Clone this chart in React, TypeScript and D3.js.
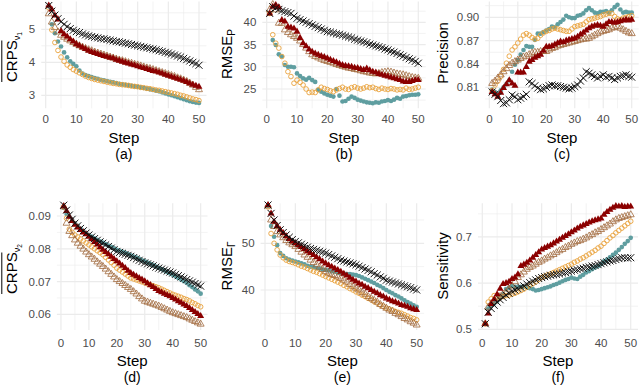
import React from 'react'
import * as d3 from 'd3'

// steps 1..50 shared by every panel
const steps = d3.range(1, 51)

// (a) CRPS nu1
const crps1Teal = [5.70,5.15,4.88,4.63,4.48,4.30,4.15,4.03,3.95,3.88,3.75,3.66,3.61,3.58,3.55,3.52,3.50,3.47,3.45,3.43,3.41,3.39,3.37,3.35,3.33,3.32,3.30,3.29,3.27,3.26,3.24,3.22,3.20,3.18,3.16,3.14,3.12,3.09,3.06,3.03,3.00,2.97,2.94,2.91,2.88,2.85,2.82,2.80,2.78,2.77]
const crps1Orange = [5.65,4.98,4.60,4.36,4.16,4.03,3.92,3.85,3.78,3.73,3.68,3.63,3.58,3.54,3.51,3.48,3.46,3.44,3.42,3.40,3.38,3.36,3.35,3.33,3.32,3.31,3.30,3.28,3.27,3.26,3.24,3.23,3.21,3.20,3.18,3.16,3.15,3.13,3.11,3.09,3.07,3.05,3.03,3.00,2.98,2.95,2.92,2.89,2.87,2.84]
const crps1Brown = [5.47,5.22,5.05,4.92,4.82,4.76,4.70,4.65,4.60,4.55,4.50,4.46,4.42,4.38,4.35,4.31,4.28,4.25,4.22,4.19,4.16,4.13,4.10,4.07,4.05,4.02,3.99,3.97,3.94,3.92,3.89,3.86,3.83,3.81,3.78,3.75,3.72,3.69,3.66,3.63,3.60,3.57,3.53,3.50,3.46,3.42,3.37,3.31,3.24,3.17]
const crps1Red = [5.72,5.60,5.42,5.30,4.95,4.85,4.78,4.70,4.63,4.55,4.50,4.45,4.40,4.35,4.31,4.28,4.25,4.22,4.19,4.17,4.14,4.12,4.08,4.05,4.02,3.99,3.96,3.93,3.91,3.88,3.85,3.83,3.80,3.77,3.74,3.72,3.69,3.66,3.62,3.59,3.56,3.53,3.50,3.47,3.44,3.40,3.36,3.32,3.29,3.26]
const crps1Black = [5.72,5.55,5.43,5.32,5.23,5.15,5.08,5.02,4.97,4.93,4.90,4.86,4.83,4.80,4.78,4.76,4.74,4.72,4.71,4.69,4.67,4.65,4.63,4.62,4.60,4.58,4.56,4.54,4.52,4.50,4.48,4.46,4.44,4.42,4.40,4.38,4.35,4.33,4.30,4.28,4.25,4.22,4.19,4.16,4.12,4.08,4.04,4.00,3.96,3.91]

// (b) RMSE p
const rmsePTeal = [42.0,36.0,34.9,32.8,32.3,30.4,30.0,30.0,29.9,28.5,27.9,27.4,27.1,27.5,27.0,26.6,24.8,24.4,24.0,23.7,23.5,23.3,25.0,23.5,22.2,22.3,22.8,23.3,23.0,22.6,22.4,22.2,22.0,21.9,21.8,22.0,21.9,22.2,22.3,22.5,22.3,22.6,23.0,22.8,23.3,23.4,23.6,23.7,23.7,23.8]
const rmsePOrange = [42.0,37.2,35.3,34.2,32.3,30.8,28.9,27.8,26.3,27.0,26.5,25.9,25.0,24.2,24.3,24.2,24.8,25.4,25.1,24.9,24.6,24.4,24.8,25.1,25.4,25.0,24.9,25.3,25.5,25.2,25.0,25.2,25.5,25.3,25.4,25.1,24.9,25.2,25.0,24.9,25.1,25.0,24.8,24.9,24.8,25.2,24.9,25.0,25.2,25.4]
const rmsePBrown = [42.8,44.0,42.8,39.8,39.8,38.3,37.7,37.2,36.8,36.4,35.8,35.0,34.2,33.4,32.7,32.3,32.0,31.7,31.4,31.2,31.0,30.8,30.5,30.3,30.1,29.9,29.7,29.6,29.4,29.3,29.1,28.9,28.8,28.6,28.5,28.4,28.5,28.7,28.8,28.9,28.8,28.6,28.4,28.3,28.2,28.0,27.8,27.6,27.5,27.4]
const rmsePRed = [42.0,43.5,43.9,43.4,40.5,40.2,39.0,38.8,38.6,37.9,36.5,35.3,34.6,33.9,33.4,33.0,32.7,32.4,32.2,31.9,31.6,31.3,31.0,30.7,30.4,30.2,30.1,30.0,29.8,29.7,29.5,29.3,29.6,29.2,28.9,28.7,28.4,28.2,28.0,27.8,27.6,27.4,27.2,27.0,26.7,26.6,26.6,26.8,27.0,27.0]
const rmsePBlack = [42.0,43.5,43.2,42.9,42.6,42.4,42.2,42.0,41.4,40.9,40.6,40.3,40.0,39.7,39.4,39.1,38.8,38.5,38.2,37.9,37.8,37.6,37.4,37.3,37.1,36.9,36.7,36.5,36.2,36.0,35.8,35.6,35.4,35.1,34.9,34.7,34.5,34.3,34.0,33.8,33.5,33.3,33.0,32.7,32.4,32.1,31.8,31.5,31.2,30.8]

// (c) Precision
const precTeal = [0.807,0.804,0.802,0.806,0.810,0.814,0.819,0.830,0.839,0.845,0.852,0.858,0.863,0.862,0.862,0.871,0.879,0.879,0.881,0.883,0.885,0.888,0.887,0.891,0.894,0.897,0.902,0.900,0.899,0.899,0.902,0.903,0.905,0.909,0.912,0.909,0.906,0.905,0.907,0.907,0.908,0.906,0.909,0.913,0.916,0.910,0.906,0.907,0.906,0.906]
const precOrange = [0.806,0.813,0.818,0.824,0.833,0.841,0.850,0.858,0.862,0.867,0.872,0.877,0.879,0.877,0.874,0.872,0.873,0.877,0.880,0.882,0.883,0.885,0.886,0.885,0.884,0.883,0.882,0.882,0.885,0.888,0.889,0.890,0.891,0.894,0.897,0.898,0.899,0.900,0.901,0.903,0.904,0.905,0.905,0.901,0.898,0.897,0.899,0.900,0.901,0.902]
const precBrown = [0.815,0.818,0.822,0.826,0.830,0.834,0.838,0.841,0.843,0.845,0.847,0.849,0.850,0.852,0.854,0.855,0.855,0.856,0.856,0.856,0.858,0.860,0.861,0.863,0.864,0.865,0.866,0.867,0.868,0.869,0.870,0.871,0.872,0.872,0.873,0.875,0.877,0.879,0.881,0.882,0.883,0.884,0.886,0.887,0.888,0.886,0.884,0.882,0.880,0.879]
const precRed = [0.804,0.801,0.798,0.803,0.809,0.814,0.819,0.815,0.812,0.829,0.829,0.829,0.836,0.843,0.845,0.848,0.850,0.852,0.857,0.862,0.862,0.863,0.865,0.867,0.869,0.868,0.870,0.871,0.872,0.873,0.875,0.878,0.880,0.883,0.886,0.888,0.889,0.890,0.889,0.888,0.891,0.894,0.894,0.893,0.894,0.895,0.896,0.897,0.896,0.897]
const precBlack = [0.804,0.801,0.798,0.793,0.789,0.790,0.794,0.800,0.798,0.794,0.796,0.798,0.801,0.817,0.815,0.812,0.809,0.807,0.808,0.810,0.812,0.813,0.812,0.812,0.811,0.810,0.809,0.808,0.809,0.811,0.813,0.818,0.822,0.830,0.828,0.826,0.824,0.822,0.824,0.826,0.823,0.824,0.822,0.820,0.822,0.824,0.825,0.826,0.824,0.823]

// (d) CRPS nu2
const crps2Teal = [0.0925,0.0906,0.0898,0.0888,0.0878,0.0870,0.0862,0.0855,0.0848,0.0842,0.0837,0.0832,0.0827,0.0823,0.0819,0.0814,0.0810,0.0806,0.0801,0.0797,0.0794,0.0791,0.0788,0.0784,0.0780,0.0776,0.0773,0.0769,0.0765,0.0762,0.0758,0.0754,0.0750,0.0746,0.0742,0.0738,0.0734,0.0729,0.0725,0.0721,0.0716,0.0711,0.0706,0.0701,0.0696,0.0689,0.0683,0.0676,0.0670,0.0663]
const crps2Orange = [0.0928,0.0893,0.0860,0.0850,0.0842,0.0836,0.0830,0.0824,0.0818,0.0812,0.0806,0.0800,0.0794,0.0788,0.0782,0.0774,0.0766,0.0758,0.0750,0.0741,0.0735,0.0729,0.0723,0.0717,0.0711,0.0708,0.0705,0.0702,0.0699,0.0696,0.0693,0.0690,0.0687,0.0684,0.0681,0.0677,0.0673,0.0669,0.0665,0.0661,0.0658,0.0655,0.0652,0.0648,0.0645,0.0641,0.0636,0.0632,0.0627,0.0623]
const crps2Brown = [0.0928,0.0878,0.0853,0.0840,0.0827,0.0817,0.0808,0.0799,0.0790,0.0782,0.0775,0.0768,0.0760,0.0753,0.0746,0.0738,0.0730,0.0722,0.0714,0.0706,0.0700,0.0694,0.0688,0.0682,0.0676,0.0669,0.0662,0.0654,0.0647,0.0640,0.0637,0.0634,0.0631,0.0628,0.0625,0.0621,0.0617,0.0613,0.0609,0.0605,0.0602,0.0599,0.0596,0.0593,0.0590,0.0586,0.0582,0.0578,0.0574,0.0570]
const crps2Red = [0.0930,0.0915,0.0898,0.0885,0.0873,0.0865,0.0857,0.0850,0.0844,0.0837,0.0829,0.0821,0.0813,0.0805,0.0797,0.0790,0.0783,0.0776,0.0769,0.0762,0.0755,0.0748,0.0741,0.0733,0.0726,0.0721,0.0716,0.0711,0.0706,0.0701,0.0695,0.0689,0.0683,0.0677,0.0671,0.0667,0.0663,0.0659,0.0655,0.0650,0.0645,0.0640,0.0635,0.0630,0.0625,0.0619,0.0613,0.0607,0.0601,0.0595]
const crps2Black = [0.0933,0.0918,0.0903,0.0890,0.0878,0.0870,0.0862,0.0855,0.0848,0.0842,0.0836,0.0831,0.0826,0.0821,0.0817,0.0812,0.0807,0.0802,0.0797,0.0792,0.0789,0.0786,0.0783,0.0780,0.0777,0.0773,0.0769,0.0765,0.0761,0.0757,0.0754,0.0751,0.0748,0.0744,0.0741,0.0738,0.0735,0.0732,0.0729,0.0726,0.0722,0.0718,0.0714,0.0710,0.0706,0.0702,0.0698,0.0694,0.0690,0.0686]

// (e) RMSE Gamma
const rmseGTeal = [58.0,53.7,51.4,49.6,47.9,47.3,46.8,46.5,46.3,46.1,45.9,45.7,45.5,45.2,45.0,44.9,44.7,44.6,44.4,44.3,44.2,44.0,43.9,43.7,43.6,43.5,43.4,43.4,43.3,43.2,43.0,42.7,42.4,42.1,41.8,41.5,41.1,40.8,40.4,40.0,39.6,39.3,38.9,38.6,38.2,37.8,37.4,37.1,36.7,36.4]
const rmseGOrange = [57.8,52.1,50.0,48.6,47.5,46.9,46.4,46.1,45.9,45.7,45.4,45.1,44.9,44.6,44.3,44.0,43.8,43.5,43.2,42.9,42.6,42.3,42.0,41.7,41.4,41.0,40.7,40.3,40.0,39.6,39.3,38.9,38.6,38.2,37.9,37.5,37.2,36.8,36.5,36.1,35.9,35.7,35.4,35.2,35.0,34.7,34.4,34.1,33.9,33.6]
const rmseGBrown = [58.0,55.0,53.6,52.5,51.8,51.2,50.6,50.1,49.7,49.3,48.7,48.1,47.5,47.0,46.4,45.9,45.4,44.9,44.4,43.9,43.6,43.3,43.1,42.8,42.5,42.1,41.7,41.2,40.8,40.4,40.0,39.5,39.1,38.6,38.2,37.8,37.4,36.9,36.5,36.1,35.7,35.4,35.0,34.7,34.3,33.9,33.6,33.2,32.9,32.5]
const rmseGRed = [58.2,56.4,54.6,53.7,52.9,52.2,51.5,50.9,50.4,50.0,49.6,49.2,48.8,48.3,47.9,47.5,47.0,46.6,46.1,45.7,45.3,45.0,44.6,44.3,43.9,43.5,43.1,42.6,42.2,41.8,41.4,41.1,40.7,40.4,40.0,39.6,39.3,38.9,38.6,38.2,37.9,37.6,37.4,37.1,36.8,36.6,36.4,36.1,35.9,35.7]
const rmseGBlack = [58.2,56.4,55.0,53.8,52.9,52.3,51.8,51.3,50.8,50.4,50.1,49.8,49.5,49.2,48.9,48.7,48.5,48.3,48.1,47.9,47.6,47.3,47.0,46.7,46.4,46.2,46.0,45.8,45.6,45.4,45.1,44.8,44.5,44.2,43.9,43.5,43.2,42.8,42.5,42.1,41.9,41.7,41.5,41.3,41.1,40.9,40.7,40.5,40.2,40.0]

// (f) Sensitivity
const sensTeal = [0.512,0.545,0.552,0.556,0.561,0.568,0.576,0.587,0.590,0.594,0.592,0.591,0.592,0.592,0.591,0.589,0.587,0.584,0.585,0.587,0.589,0.591,0.593,0.596,0.598,0.601,0.604,0.607,0.609,0.612,0.610,0.609,0.614,0.618,0.623,0.626,0.630,0.634,0.637,0.641,0.647,0.651,0.656,0.661,0.666,0.672,0.678,0.685,0.691,0.698]
const sensOrange = [0.512,0.559,0.566,0.573,0.570,0.569,0.571,0.573,0.574,0.576,0.578,0.581,0.584,0.587,0.591,0.595,0.599,0.603,0.608,0.612,0.615,0.618,0.620,0.623,0.626,0.629,0.632,0.635,0.638,0.641,0.645,0.648,0.652,0.655,0.659,0.663,0.667,0.671,0.676,0.680,0.686,0.692,0.698,0.703,0.709,0.714,0.719,0.724,0.729,0.734]
const sensBrown = [0.512,0.548,0.556,0.561,0.566,0.571,0.576,0.580,0.587,0.594,0.603,0.612,0.618,0.624,0.630,0.634,0.637,0.641,0.645,0.648,0.652,0.655,0.659,0.662,0.666,0.670,0.673,0.677,0.680,0.684,0.687,0.690,0.692,0.695,0.698,0.702,0.705,0.709,0.712,0.716,0.720,0.724,0.728,0.733,0.737,0.740,0.742,0.744,0.746,0.748]
const sensRed = [0.512,0.534,0.555,0.565,0.576,0.588,0.598,0.600,0.603,0.609,0.612,0.619,0.637,0.640,0.644,0.649,0.655,0.661,0.667,0.673,0.676,0.679,0.682,0.686,0.690,0.694,0.698,0.702,0.706,0.710,0.714,0.718,0.722,0.725,0.728,0.731,0.734,0.736,0.738,0.740,0.748,0.754,0.759,0.763,0.767,0.766,0.767,0.765,0.766,0.766]
const sensBlack = [0.512,0.537,0.545,0.552,0.559,0.564,0.569,0.574,0.578,0.582,0.585,0.588,0.591,0.594,0.598,0.601,0.604,0.607,0.610,0.612,0.614,0.615,0.617,0.618,0.619,0.620,0.622,0.623,0.625,0.626,0.628,0.629,0.631,0.632,0.634,0.635,0.637,0.638,0.640,0.642,0.644,0.646,0.648,0.649,0.651,0.653,0.655,0.655,0.654,0.655]

const xTicks = [0, 10, 20, 30, 40, 50]
const xMinor = [5, 15, 25, 35, 45]

const FONT = '"Liberation Sans", Arial, Helvetica, sans-serif'
const GRID = '#ebebeb'

type Kind = 'teal' | 'orange' | 'brown' | 'red' | 'black'

const markerPaths = {
  circle: d3.symbol().type(d3.symbolCircle).size(17)()!,
  tri: d3.symbol().type(d3.symbolTriangle).size(21)()!,
  times: d3.symbol().type(d3.symbolTimes).size(34)()!
}

const Marker = ({ kind, x, y }: { kind: Kind; x: number; y: number }) => {
  const t = `translate(${x},${y})`
  switch (kind) {
    case 'teal':
      return <path transform={t} d={markerPaths.circle} fill="#5f9ea0" />
    case 'orange':
      return <path transform={t} d={markerPaths.circle} fill="none" stroke="#e9a23b" strokeWidth={0.9} />
    case 'brown':
      return <path transform={t} d={markerPaths.tri} fill="none" stroke="#a0673a" strokeWidth={0.8} />
    case 'red':
      return <path transform={t} d={markerPaths.tri} fill="#8b0000" />
    default:
      return <path transform={t} d={markerPaths.times} fill="none" stroke="#111" strokeWidth={1} />
  }
}

interface PanelProps {
  left: number
  right: number
  top: number
  bottom: number
  yDomain: [number, number]
  yTicks: number[]
  yMinor: number[]
  fmt: (v: number) => string
  series: [Kind, number[]][]
  label: string
  tickY: number
  stepY: number
  labelY: number
  title: React.ReactNode
}

const Panel = (p: PanelProps) => {
  const x = d3.scaleLinear().domain([-1.45, 52.45]).range([p.left, p.right])
  const y = d3.scaleLinear().domain(p.yDomain).range([p.bottom, p.top])
  const cx = (p.left + p.right) / 2
  return (
    <g>
      {/* grid */}
      {xMinor.map(v => (
        <line key={'xm' + v} x1={x(v)} x2={x(v)} y1={p.top} y2={p.bottom} stroke={GRID} strokeWidth={0.6} />
      ))}
      {p.yMinor.map(v => (
        <line key={'ym' + v} x1={p.left} x2={p.right} y1={y(v)} y2={y(v)} stroke={GRID} strokeWidth={0.6} />
      ))}
      {xTicks.map(v => (
        <line key={'xg' + v} x1={x(v)} x2={x(v)} y1={p.top} y2={p.bottom} stroke={GRID} strokeWidth={1.2} />
      ))}
      {p.yTicks.map(v => (
        <line key={'yg' + v} x1={p.left} x2={p.right} y1={y(v)} y2={y(v)} stroke={GRID} strokeWidth={1.2} />
      ))}

      {/* points */}
      {p.series.map(([kind, vals]) => (
        <g key={kind}>
          {vals.map((v, i) => (
            <Marker key={i} kind={kind} x={x(steps[i])} y={y(v)} />
          ))}
        </g>
      ))}

      {/* axes text */}
      {xTicks.map(v => (
        <text key={'xt' + v} x={x(v)} y={p.tickY} textAnchor="middle" fontSize={11.5} fill="#4d4d4d" fontFamily={FONT}>
          {v}
        </text>
      ))}
      {p.yTicks.map(v => (
        <text key={'yt' + v} x={p.left - 6} y={y(v)} dy="0.35em" textAnchor="end" fontSize={11.5} fill="#4d4d4d" fontFamily={FONT}>
          {p.fmt(v)}
        </text>
      ))}
      <text x={cx} y={p.stepY} textAnchor="middle" fontSize={15} fontFamily={FONT}>Step</text>
      <text x={cx} y={p.labelY} textAnchor="middle" fontSize={14} fontFamily={FONT}>{p.label}</text>
      {p.title}
    </g>
  )
}

// overlined CRPS with nu subscript, rotated
const CrpsTitle = ({ x, y, sub }: { x: number; y: number; sub: string }) => (
  <g transform={`translate(${x},${y}) rotate(-90)`} fontFamily={FONT}>
    <text x={-26} y={0} fontSize={15}>
      CRPS
      <tspan dy={3} fontSize={9}>ν</tspan>
      <tspan dy={2} fontSize={6.5}>{sub}</tspan>
    </text>
    <line x1={-26} x2={15.5} y1={-15.5} y2={-15.5} stroke="#000" strokeWidth={1} />
  </g>
)

const RmseTitle = ({ x, y, sub }: { x: number; y: number; sub: string }) => (
  <g transform={`translate(${x},${y}) rotate(-90)`} fontFamily={FONT}>
    <text x={0} y={0} fontSize={15} textAnchor="middle">
      RMSE
      <tspan dy={3} fontSize={10}>{sub}</tspan>
    </text>
  </g>
)

const PlainTitle = ({ x, y, text }: { x: number; y: number; text: string }) => (
  <text transform={`translate(${x},${y}) rotate(-90)`} textAnchor="middle" fontSize={15} fontFamily={FONT}>
    {text}
  </text>
)

const f1 = (v: number) => d3.format('d')(v)
const f2 = (v: number) => d3.format('.2f')(v)
const f3 = (v: number) => d3.format('.1f')(v)

export default function App() {
  const topRow = { top: 1.5, bottom: 108.3, tickY: 123.3, stepY: 142.7, labelY: 158.5 }
  const botRow = { top: 203.3, bottom: 330, tickY: 347.3, stepY: 366, labelY: 382 }
  return (
    <svg width={640} height={385} style={{ position: 'absolute', left: 0, top: 0, background: '#fff' }}>
      <Panel
        {...topRow} left={41.25} right={206.5} yDomain={[2.606, 5.842]} yTicks={[3, 4, 5]} yMinor={[3.5, 4.5, 5.5]} fmt={f1}
        series={[['teal', crps1Teal], ['orange', crps1Orange], ['brown', crps1Brown], ['red', crps1Red], ['black', crps1Black]]}
        label="(a)" title={<CrpsTitle x={17.3} y={56} sub="1" />}
      />
      <Panel
        {...topRow} left={262.3} right={425.7} yDomain={[20.66, 44.68]} yTicks={[25, 30, 35, 40]} yMinor={[22.5, 27.5, 32.5, 37.5, 42.5]} fmt={f1}
        series={[['teal', rmsePTeal], ['orange', rmsePOrange], ['brown', rmsePBrown], ['red', rmsePRed], ['black', rmsePBlack]]}
        label="(b)" title={<RmseTitle x={231.5} y={54} sub="P" />}
      />
      <Panel
        {...topRow} left={485.2} right={638.7} yDomain={[0.783, 0.9203]} yTicks={[0.81, 0.84, 0.87, 0.9]} yMinor={[0.795, 0.825, 0.855, 0.885, 0.915]} fmt={f2}
        series={[['teal', precTeal], ['orange', precOrange], ['brown', precBrown], ['red', precRed], ['black', precBlack]]}
        label="(c)" title={<PlainTitle x={448.3} y={53} text="Precision" />}
      />
      <Panel
        {...botRow} left={56.9} right={207.5} yDomain={[0.05521, 0.09388]} yTicks={[0.06, 0.07, 0.08, 0.09]} yMinor={[0.065, 0.075, 0.085]} fmt={f2}
        series={[['teal', crps2Teal], ['orange', crps2Orange], ['brown', crps2Brown], ['red', crps2Red], ['black', crps2Black]]}
        label="(d)" title={<CrpsTitle x={17.3} y={268} sub="2" />}
      />
      <Panel
        {...botRow} left={260.6} right={424.1} yDomain={[31.43, 58.57]} yTicks={[40, 50]} yMinor={[35, 45, 55]} fmt={f1}
        series={[['teal', rmseGTeal], ['orange', rmseGOrange], ['brown', rmseGBrown], ['red', rmseGRed], ['black', rmseGBlack]]}
        label="(e)" title={<RmseTitle x={231.7} y={266} sub="Γ" />}
      />
      <Panel
        {...botRow} left={478} right={638} yDomain={[0.4985, 0.7728]} yTicks={[0.5, 0.6, 0.7]} yMinor={[0.55, 0.65, 0.75]} fmt={f3}
        series={[['teal', sensTeal], ['orange', sensOrange], ['brown', sensBrown], ['red', sensRed], ['black', sensBlack]]}
        label="(f)" title={<PlainTitle x={448.3} y={266} text="Sensitivity" />}
      />
    </svg>
  )
}
